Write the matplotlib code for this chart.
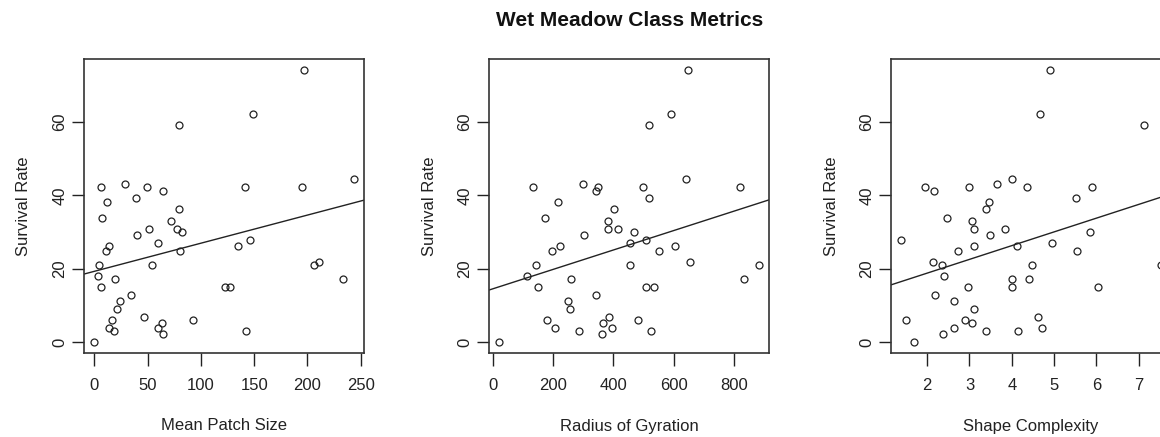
import numpy as np
import matplotlib
matplotlib.use("Agg")
from matplotlib import pyplot as plt

plt.rcParams['font.family'] = ['Liberation Sans', 'DejaVu Sans']

# survival rate vs. each landscape metric (one list pair per panel)
patch_size = [0, 6, 7.5, 12.2, 4.7, 3.8, 6.3, 10.7, 14.1, 19.7, 24.1, 21.0,
              16.6, 14.1, 18.5, 28.5, 34.5, 39.2, 40.4, 46.7, 49.5, 51.1, 54.2, 59.8,
              59.8, 63.3, 64.5, 64.5, 71.7, 77.7, 79.6, 82.4, 79.3, 80.8, 92.7, 123.1,
              126.9, 134.7, 141.6, 141.9, 146.0, 148.8, 196.4, 194.9, 206.2, 210.9, 233.1, 243.4]
survival_patch = [0, 42.2, 33.9, 38.3, 20.9, 17.9, 15.0, 24.8, 26.1, 17.1, 11.3, 9.1,
                  6.0, 3.8, 2.9, 43.0, 12.9, 39.2, 29.2, 6.9, 42.2, 30.8, 20.9, 27.0,
                  3.8, 5.1, 2.2, 41.3, 33.1, 30.8, 36.2, 29.9, 59.2, 24.8, 6.0, 15.0,
                  15.0, 26.1, 42.2, 2.9, 27.8, 62.2, 74.2, 42.2, 20.9, 21.9, 17.1, 44.4]

gyration = [22, 115, 132, 143, 149, 175, 180, 195, 205, 215, 224, 250,
            255, 261, 286, 298, 303, 344, 348, 344, 361, 366, 381, 381,
            387, 397, 403, 414, 455, 455, 470, 482, 497, 507, 507, 518,
            518, 525, 535, 550, 590, 603, 640, 649, 655, 821, 832, 882]
survival_gyration = [0, 17.9, 42.2, 20.9, 15.0, 33.9, 6.0, 24.8, 3.8, 38.3, 26.1, 11.3,
                     9.1, 17.1, 2.9, 43.0, 29.2, 41.3, 42.2, 12.9, 2.2, 5.1, 33.1, 30.8,
                     6.9, 3.8, 36.2, 30.8, 27.0, 20.9, 29.9, 6.0, 42.2, 27.8, 15.0, 39.2,
                     59.2, 2.9, 15.0, 24.8, 62.2, 26.1, 44.4, 74.2, 21.9, 42.2, 17.1, 20.9]

shape = [1.39, 1.50, 1.69, 1.96, 2.15, 2.14, 2.34, 2.40, 2.18, 2.48, 2.37, 2.63,
         2.63, 2.74, 2.89, 2.98, 2.97, 3.05, 3.05, 3.11, 3.11, 3.11, 3.38, 3.38,
         3.47, 3.49, 3.64, 3.83, 4.00, 4.01, 4.01, 4.12, 4.15, 4.37, 4.41, 4.48,
         4.63, 4.67, 4.71, 4.90, 4.94, 5.53, 5.54, 5.85, 5.89, 6.03, 7.13, 7.52]
survival_shape = [27.8, 6.0, 0, 42.2, 41.3, 21.9, 20.9, 17.9, 12.9, 33.9, 2.2, 11.3,
                  3.8, 24.8, 6.0, 42.2, 15.0, 5.1, 33.1, 30.8, 26.1, 9.1, 2.9, 36.2,
                  38.3, 29.2, 43.0, 30.8, 44.4, 17.1, 15.0, 26.1, 2.9, 42.2, 17.1, 20.9,
                  6.9, 62.2, 3.8, 74.2, 27.0, 39.2, 24.8, 29.9, 42.2, 15.0, 59.2, 20.9]

panels = [
    (patch_size, survival_patch, "Mean Patch Size", [0, 50, 100, 150, 200, 250]),
    (gyration, survival_gyration, "Radius of Gyration", [0, 200, 400, 600, 800]),
    (shape, survival_shape, "Shape Complexity", [2, 3, 4, 5, 6, 7]),
]
y_ticks = [0, 20, 40, 60]


def padded(v, frac=0.04):
    lo, hi = min(v), max(v)
    r = hi - lo
    return lo - frac * r, hi + frac * r


W, H = 1160, 437
fig = plt.figure(figsize=(W / 100, H / 100), dpi=100)

ink = "#222222"
lefts = [84, 489, 891]
for left, (x, y, xlabel, xticks) in zip(lefts, panels):
    ax = fig.add_axes([left / W, (H - 353) / H, 280 / W, 294 / H])
    x = np.array(x)
    y = np.array(y)
    ax.plot(x, y, 'o', mfc='none', mec=ink, ms=5, mew=0.9)
    # least squares fit, drawn across the whole panel
    slope, intercept = np.polyfit(x, y, 1)
    ax.axline((x.mean(), intercept + slope * x.mean()), slope=slope, color=ink, lw=1.0)
    ax.set_xlim(*padded(x))
    ax.set_ylim(*padded(y))

    ax.set_xticks(xticks)
    ax.set_yticks(y_ticks)
    ax.tick_params(direction='out', length=9, width=1.0, color=ink,
                   labelsize=12, labelcolor=ink)
    ax.tick_params(axis='x', pad=9)
    ax.tick_params(axis='y', pad=3)
    for lab in ax.get_yticklabels():
        lab.set_rotation(90)
        lab.set_va('center')
    for sp in ax.spines.values():
        sp.set_linewidth(1.2)
        sp.set_color("#333333")

    ax.set_xlabel(xlabel, fontsize=12, color=ink, va='center')
    ax.xaxis.set_label_coords(0.5, -(426 - 353) / 294)
    ax.set_ylabel("Survival Rate", fontsize=12, color=ink, va='center')
    ax.yaxis.set_label_coords(-60 / 280, 0.5)

fig.text(630 / W, 1 - 21 / H, "Wet Meadow Class Metrics", ha='center', va='center',
         fontsize=15, fontweight='bold', color="#111111")

fig.savefig("out.png", dpi=100)
